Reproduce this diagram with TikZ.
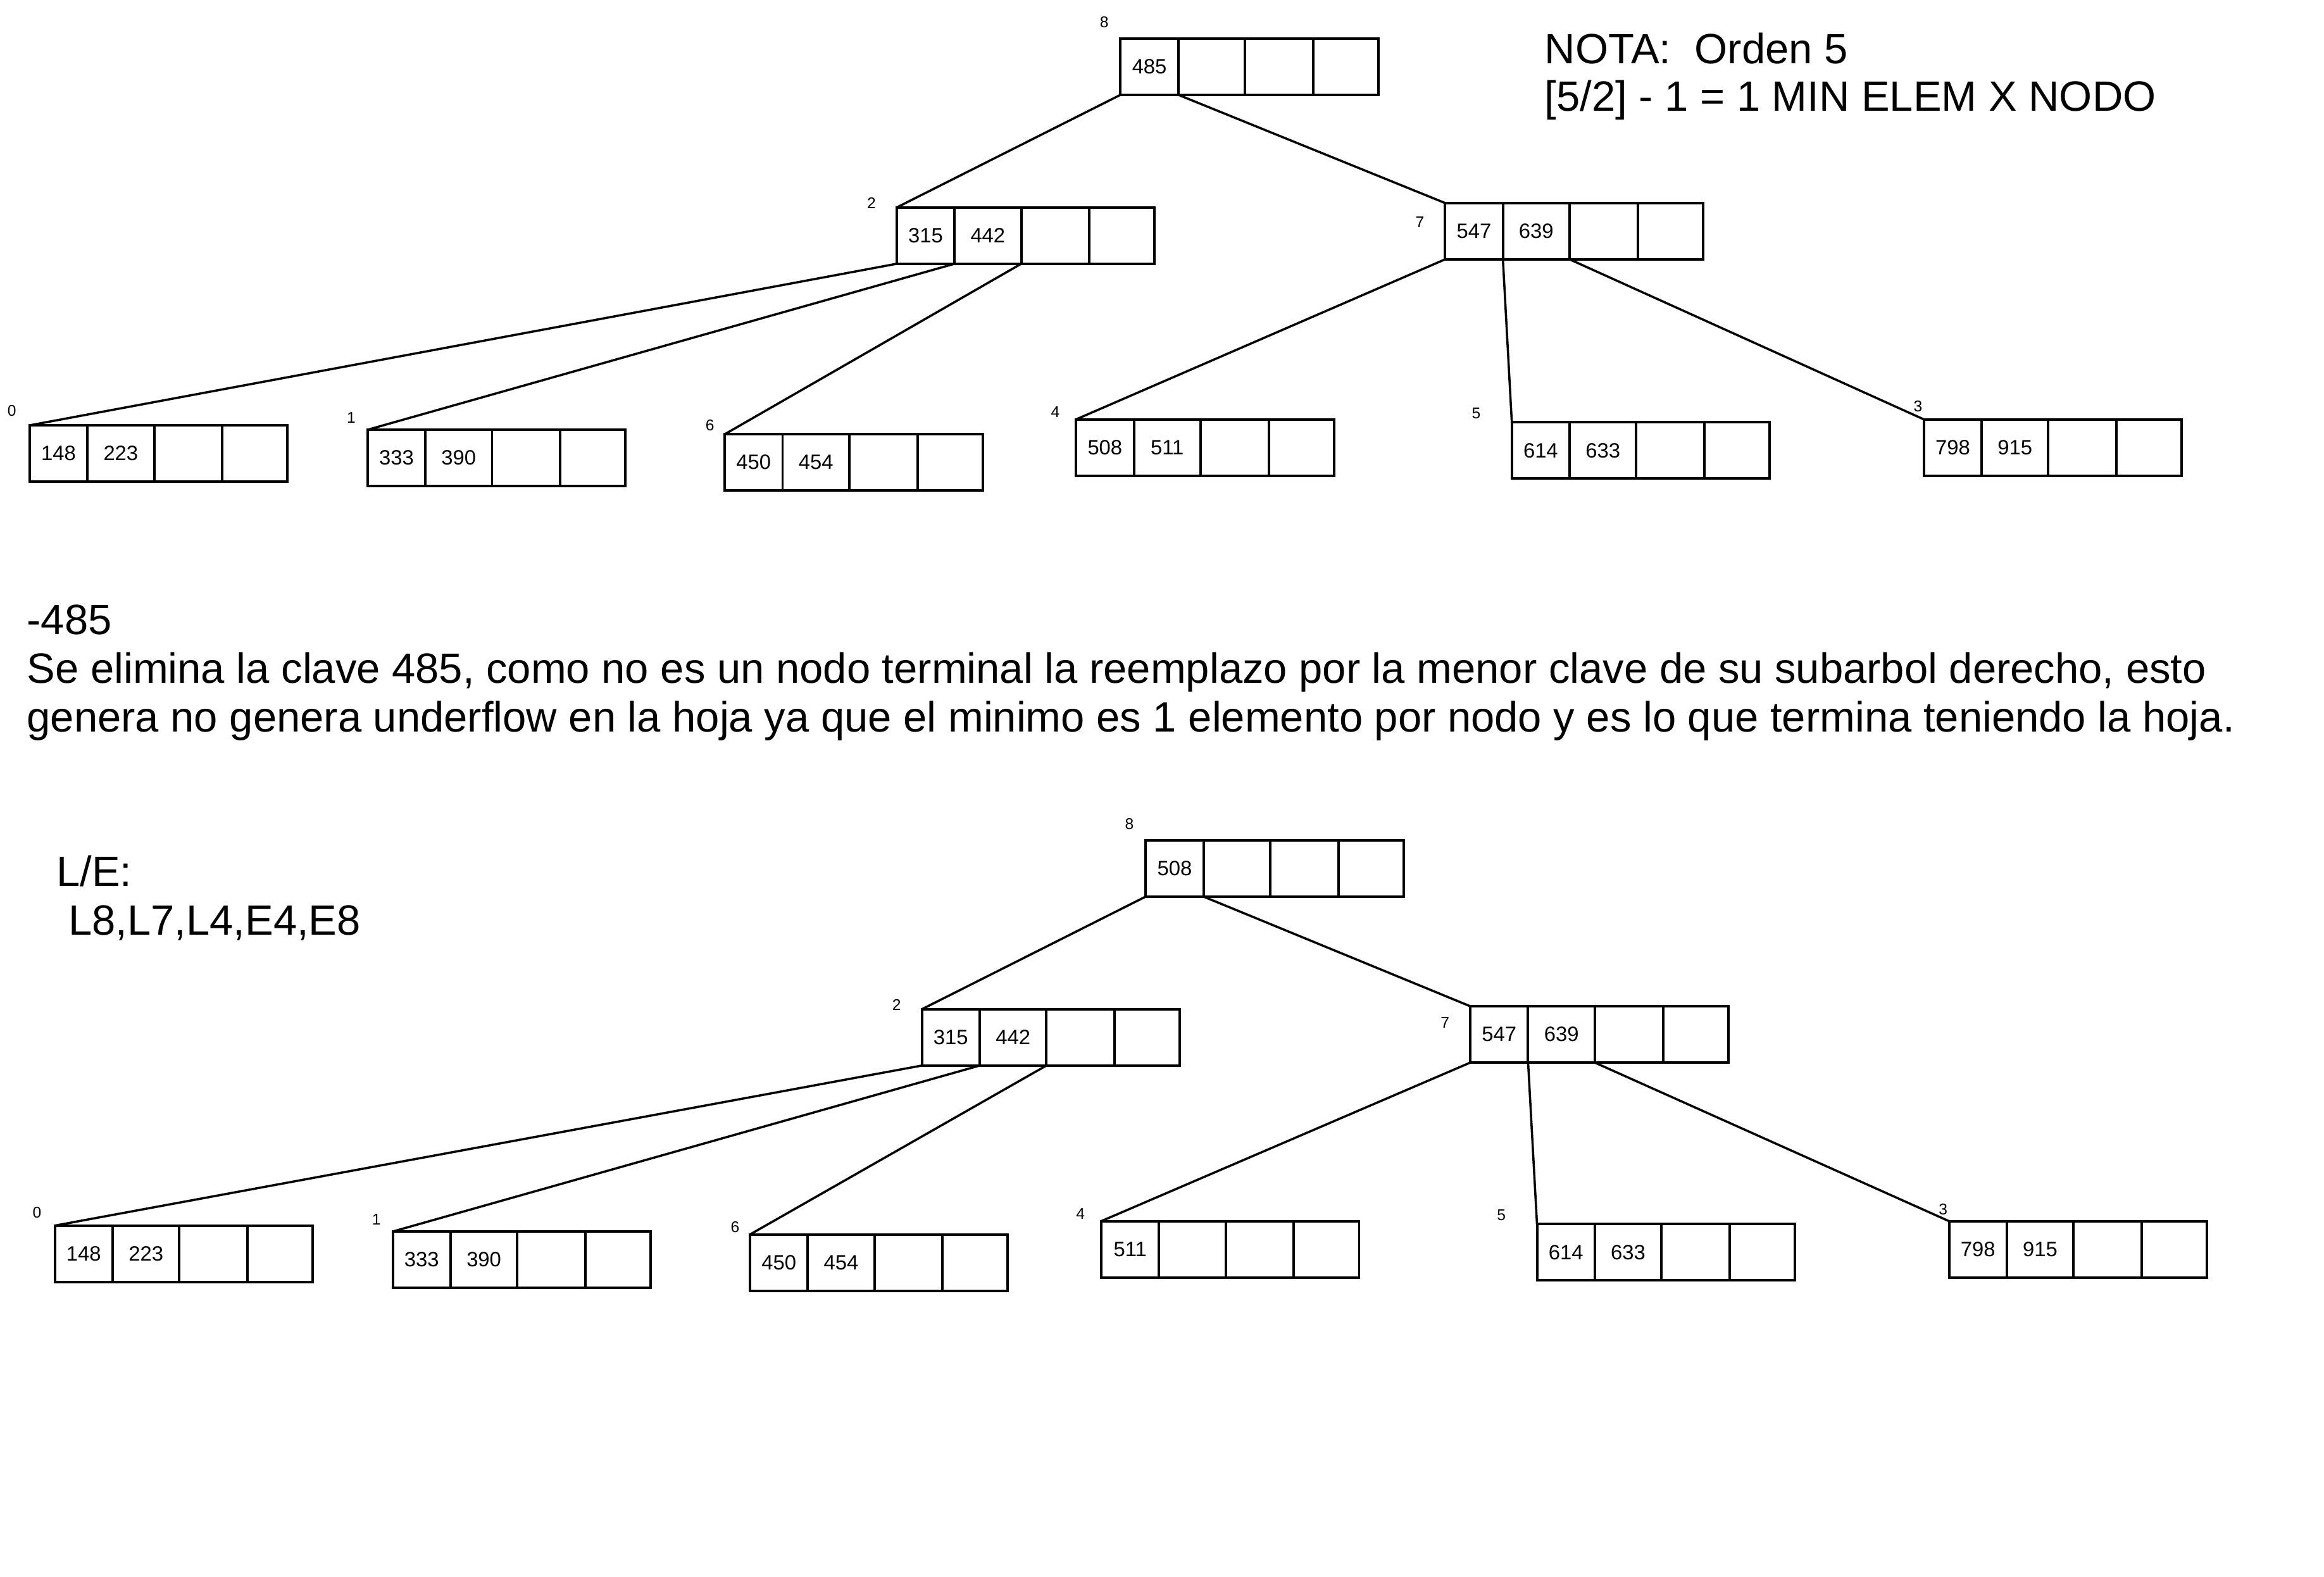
\documentclass[tikz,border=0pt]{standalone}
\usepackage{fontspec}
\setmainfont{Liberation Sans}
\usetikzlibrary{positioning}

% one page of the B-tree: name, x, y, key 1, key 2
\newcommand{\bpage}[5]{%
    \node[cell, minimum width=39pt, anchor=north west] (#1-1) at (#2,#3) {#4};
    \node[cell, minimum width=45pt, right=0pt of #1-1] (#1-2) {#5};
    \node[cell, minimum width=46pt, right=0pt of #1-2] (#1-3) {};
    \node[cell, minimum width=44pt, right=0pt of #1-3] (#1-4) {};
}

\begin{document}
\begin{tikzpicture}[x=1pt,y=-1pt,
        cell/.style={draw, line width=1.7pt, inner sep=0pt, outer sep=0pt,
            minimum height=38pt, font=\fontsize{14}{16}\selectfont},
        num/.style={inner sep=0pt, font=\fontsize{10.5}{12}\selectfont},
        txt/.style={inner sep=0pt, anchor=base west, font=\fontsize{28.6}{33}\selectfont},
        link/.style={line width=1.5pt}]
        \useasboundingbox (0,0) rectangle (1568,1064);

        % arbol antes de borrar
        \bpage{t8}{756}{26}{485}{}
        \bpage{t2}{605}{140}{315}{442}
        \bpage{t7}{975}{137}{547}{639}
        \bpage{t0}{20}{287}{148}{223}
        \bpage{t1}{248}{290}{333}{390}
        \bpage{t6}{489}{293}{450}{454}
        \bpage{t4}{726}{283}{508}{511}
        \bpage{t5}{1020}{285}{614}{633}
        \bpage{t3}{1298}{283}{798}{915}

        \node[num] (nt8) at (745,15) {8};
        \node[num] (nt2) at (588,137) {2};
        \node[num] (nt7) at (958,150) {7};
        \node[num] (nt0) at (8,277) {0};
        \node[num] (nt1) at (237,282) {1};
        \node[num] (nt6) at (479,287) {6};
        \node[num] (nt4) at (712,278) {4};
        \node[num] (nt5) at (996,279) {5};
        \node[num] (nt3) at (1294,274) {3};

        \draw[link] (t8-1.south west) -- (t2-1.north west);
        \draw[link] (t8-1.south east) -- (t7-1.north west);
        \draw[link] (t2-1.south west) -- (t0-1.north west);
        \draw[link] (t2-1.south east) -- (t1-1.north west);
        \draw[link] (t2-2.south east) -- (t6-1.north west);
        \draw[link] (t7-1.south west) -- (t4-1.north west);
        \draw[link] (t7-1.south east) -- (t5-1.north west);
        \draw[link] (t7-2.south east) -- (t3-1.north west);

        \node[txt] (nota) at (1042,43) {NOTA:\ \ Orden 5};
        \node[txt] (minimo) at (1042,75) {[5/2] - 1 = 1 MIN ELEM X NODO};

        % explicacion
        \node[txt] (borra) at (18,428) {-485};
        \node[txt] (expl1) at (18,461) {Se elimina la clave 485, como no es un nodo terminal la reemplazo por la menor clave de su subarbol derecho, esto};
        \node[txt] (expl2) at (18,494) {genera no genera underflow en la hoja ya que el minimo es 1 elemento por nodo y es lo que termina teniendo la hoja.};

        \node[txt] (le) at (38,598) {L/E:};
        \node[txt] (lecturas) at (38,631) {\ L8,L7,L4,E4,E8};

        % arbol despues de borrar
        \bpage{b8}{773}{567}{508}{}
        \bpage{b2}{622}{681}{315}{442}
        \bpage{b7}{992}{679}{547}{639}
        \bpage{b0}{37}{827}{148}{223}
        \bpage{b1}{265}{831}{333}{390}
        \bpage{b6}{506}{833}{450}{454}
        \bpage{b4}{743}{824}{511}{}
        \bpage{b5}{1037}{826}{614}{633}
        \bpage{b3}{1315}{824}{798}{915}

        \node[num] (nb8) at (762,556) {8};
        \node[num] (nb2) at (605,678) {2};
        \node[num] (nb7) at (975,690) {7};
        \node[num] (nb0) at (25,818) {0};
        \node[num] (nb1) at (254,823) {1};
        \node[num] (nb6) at (496,828) {6};
        \node[num] (nb4) at (729,819) {4};
        \node[num] (nb5) at (1013,820) {5};
        \node[num] (nb3) at (1311,816) {3};

        \draw[link] (b8-1.south west) -- (b2-1.north west);
        \draw[link] (b8-1.south east) -- (b7-1.north west);
        \draw[link] (b2-1.south west) -- (b0-1.north west);
        \draw[link] (b2-1.south east) -- (b1-1.north west);
        \draw[link] (b2-2.south east) -- (b6-1.north west);
        \draw[link] (b7-1.south west) -- (b4-1.north west);
        \draw[link] (b7-1.south east) -- (b5-1.north west);
        \draw[link] (b7-2.south east) -- (b3-1.north west);
\end{tikzpicture}
\end{document}
